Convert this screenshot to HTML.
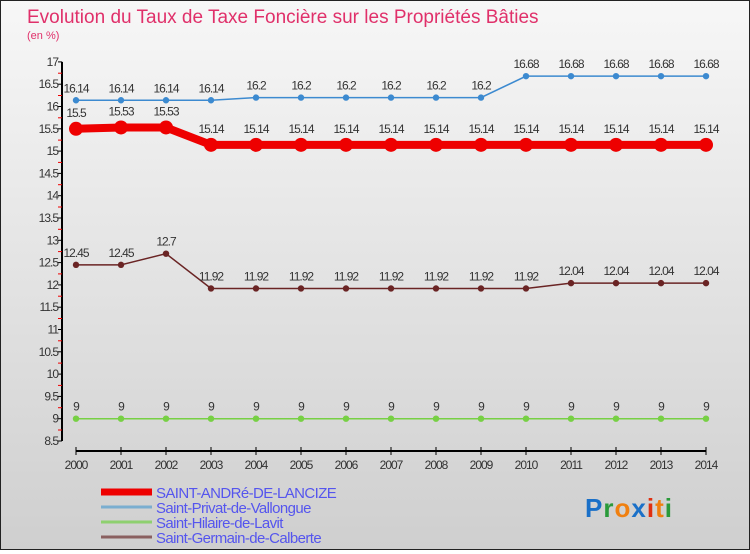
<!DOCTYPE html>
<html><head><meta charset="utf-8"><style>
html,body{margin:0;padding:0}
body{width:750px;height:550px;overflow:hidden;font-family:"Liberation Sans",sans-serif}
#wrap{position:relative;width:748px;height:548px;border:1px solid #222;background:linear-gradient(#f7f7f7,#cfcfcf)}
</style></head><body>
<div id="wrap">
<svg id="chart" width="748" height="548"></svg>
</div>
<script>
const years=[2000,2001,2002,2003,2004,2005,2006,2007,2008,2009,2010,2011,2012,2013,2014];
const sAndre=[15.5,15.53,15.53,15.14,15.14,15.14,15.14,15.14,15.14,15.14,15.14,15.14,15.14,15.14,15.14];
const sPrivat=[16.14,16.14,16.14,16.14,16.2,16.2,16.2,16.2,16.2,16.2,16.68,16.68,16.68,16.68,16.68];
const sHilaire=[9,9,9,9,9,9,9,9,9,9,9,9,9,9,9];
const sGermain=[12.45,12.45,12.7,11.92,11.92,11.92,11.92,11.92,11.92,11.92,11.92,12.04,12.04,12.04,12.04];
const yTicks=["8.5","9","9.5","10","10.5","11","11.5","12","12.5","13","13.5","14","14.5","15","15.5","16","16.5","17"];
const NS="http://www.w3.org/2000/svg";
const svg=document.getElementById('chart');
const X=i=>75+i*45;
const Y=v=>440-(v-8.5)*44.6;
function mk(t,a,p){const e=document.createElementNS(NS,t);for(const k in a)e.setAttribute(k,a[k]);(p||svg).appendChild(e);return e;}
const title=mk('text',{x:26,y:22,fill:'#e0306a','font-size':19});title.textContent='Evolution du Taux de Taxe Foncière sur les Propriétés Bâties';


const unit=mk('text',{x:26,y:38,fill:'#e0306a','font-size':11});unit.textContent='(en %)';


const ya=mk('line',{x1:61,y1:Y(17),x2:61,y2:Y(8.5),stroke:'#000','stroke-width':2});


yTicks.forEach(t=>{const v=parseFloat(t),y=Y(v);
 mk('line',{x1:57,y1:y,x2:61,y2:y,stroke:'#000'});
 if(v<17) mk('line',{x1:57,y1:y-11,x2:61,y2:y-11,stroke:'#e00'});
 const tx=mk('text',{x:57,y:y+4,'text-anchor':'end','font-size':12,fill:'#333','letter-spacing':'-1'});tx.textContent=t;
 
 });
const xa=mk('line',{x1:X(0),y1:450,x2:X(14),y2:450,stroke:'#000','stroke-width':2});


years.forEach((yr,i)=>{mk('line',{x1:X(i),y1:446,x2:X(i),y2:454,stroke:'#000'});
 const tx=mk('text',{x:X(i),y:468,'text-anchor':'middle','font-size':12,fill:'#333','letter-spacing':'-1'});tx.textContent=yr;
 
 });
function series(vals,color,w,r,name,dy){
 const g=mk('g',{});
 
 
 mk('polyline',{points:vals.map((v,i)=>X(i)+','+Y(v)).join(' '),fill:'none',stroke:color,'stroke-width':w},g);
 vals.forEach((v,i)=>{const c=mk('circle',{cx:X(i),cy:Y(v),r:r,fill:color},g);
  
  
  const t=mk('text',{x:X(i),y:Y(v)+dy,'text-anchor':'middle','font-size':12,fill:'#333','letter-spacing':'-1'},g);t.textContent=String(v);
  
  });
}
series(sPrivat,'#3c8ad0',1.5,3.2,'series-saint-privat',-8);
series(sHilaire,'#77d044',1.5,3.2,'series-saint-hilaire',-8);
series(sGermain,'#6a2424',1.5,3.2,'series-saint-germain',-8);
series(sAndre,'#ee0000',8,7,'series-saint-andre',-12);
const leg=[['SAINT-ANDRé-DE-LANCIZE','#ee0000',7],['Saint-Privat-de-Vallongue','#7aaed0',3],['Saint-Hilaire-de-Lavit','#8ed070',3],['Saint-Germain-de-Calberte','#8a6060',3]];
leg.forEach((l,i)=>{const y=491+i*15;const g=mk('g',{});
 
 
 mk('line',{x1:100,y1:y,x2:151,y2:y,stroke:l[1],'stroke-width':l[2]},g);
 const t=mk('text',{x:155,y:y+6,'font-size':15,fill:'#5555ee','letter-spacing':'-0.6'},g);t.textContent=l[0];});
const logo=mk('text',{x:584,y:516,'font-size':26,'font-weight':'bold','letter-spacing':'1'});


[['P','#1a70c8'],['r','#2a9a3a'],['o','#f08010'],['x','#1a70c8'],['i','#e03010'],['t','#f08010'],['i','#2a9a3a']].forEach(c=>{const s=mk('tspan',{fill:c[1]},logo);s.textContent=c[0];});
</script>
</body></html>
